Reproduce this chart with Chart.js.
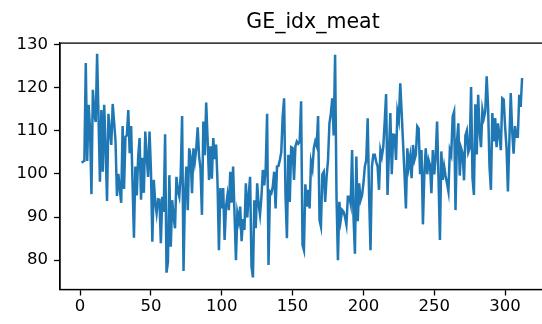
<!DOCTYPE html>
<html>
<head>
<meta charset="utf-8">
<script src="https://cdn.jsdelivr.net/npm/chart.js@4"></script>
<style>
  html, body { margin: 0; padding: 0; background: #fff; overflow: hidden; }
  #wrap { width: 570px; height: 324px; }
</style>
</head>
<body>
<div id="wrap"><canvas id="myChart" width="570" height="324"></canvas></div>
<script>
var title = 'GE_idx_meat';
var firstIndex = 1;
var meat = [
  102.6, 102.8, 103.0, 125.7, 103.0, 116.0, 110.5, 95.3, 119.5, 114.0,
  112.0, 127.8, 113.0, 98.2, 114.8, 100.5, 116.0, 106.0, 93.7, 113.9,
  110.0, 106.7, 116.2, 112.0, 107.5, 94.9, 100.0, 96.5, 93.3, 111.1,
  96.5, 108.6, 108.9, 114.8, 104.8, 111.1, 98.0, 85.2, 101.7, 95.0,
  104.0, 108.3, 94.0, 103.7, 95.6, 109.8, 104.0, 99.3, 109.8, 101.0,
  84.3, 98.6, 93.5, 90.9, 94.1, 94.0, 83.9, 94.7, 91.2, 109.2,
  77.1, 79.6, 99.7, 83.1, 93.9, 90.0, 87.4, 99.3, 96.0, 94.7,
  99.7, 113.4, 77.5, 95.0, 101.7, 91.6, 105.9, 104.0, 95.5, 105.9,
  102.9, 105.9, 110.8, 104.0, 101.2, 90.5, 112.1, 104.3, 116.5, 108.0,
  98.6, 106.4, 98.9, 108.3, 103.4, 106.8, 98.0, 82.3, 96.7, 92.0,
  96.7, 84.7, 92.4, 95.0, 91.6, 100.5, 93.3, 101.7, 90.9, 80.0,
  90.9, 89.0, 92.4, 84.4, 89.5, 87.0, 97.8, 89.9, 95.0, 99.3,
  78.5, 76.0, 93.9, 87.4, 97.8, 93.0, 90.5, 94.7, 100.9, 97.3,
  101.2, 113.9, 78.9, 95.9, 95.5, 97.0, 100.5, 92.0, 101.7, 101.8,
  103.2, 105.0, 113.3, 117.5, 95.0, 85.1, 104.4, 93.5, 106.2, 106.0,
  98.6, 106.4, 107.5, 107.0, 107.5, 116.8, 83.5, 82.3, 97.6, 92.4,
  96.3, 92.0, 102.8, 101.2, 106.0, 107.5, 106.5, 113.4, 89.3, 87.8,
  99.9, 100.5, 93.5, 99.3, 103.2, 111.7, 114.0, 117.5, 108.9, 127.6,
  94.7, 80.0, 93.5, 89.3, 91.6, 91.2, 90.0, 88.2, 94.7, 94.7,
  93.0, 105.5, 90.0, 81.5, 104.0, 89.0, 97.8, 93.9, 95.0, 97.8,
  101.7, 103.2, 112.9, 95.0, 82.3, 101.7, 104.4, 104.4, 102.8, 101.7,
  96.3, 105.5, 104.0, 106.2, 112.0, 118.5, 95.1, 105.0, 114.1, 99.9,
  109.1, 109.0, 103.2, 114.4, 112.5, 121.0, 114.1, 107.0, 99.9, 92.0,
  105.9, 101.7, 104.0, 99.0, 106.7, 103.2, 104.4, 111.0, 110.5, 99.9,
  105.5, 88.3, 100.0, 105.9, 99.9, 103.2, 102.0, 95.5, 105.5, 99.9,
  104.0, 112.1, 99.0, 84.7, 105.2, 98.6, 101.7, 99.5, 97.8, 95.9,
  105.5, 104.4, 113.3, 114.4, 91.6, 107.5, 111.7, 99.6, 105.9, 104.8,
  98.5, 108.9, 110.0, 105.0, 106.0, 120.1, 99.0, 95.1, 116.1, 104.5,
  118.3, 110.0, 106.2, 114.8, 112.9, 114.4, 122.6, 115.5, 101.7, 96.3,
  114.1, 107.5, 112.9, 106.2, 111.7, 109.0, 105.5, 117.5, 117.2, 111.0,
  106.2, 95.9, 107.5, 118.7, 110.0, 104.7, 111.1, 108.6, 108.6, 118.3,
  115.5, 122.2
];
var xTicks = [0, 50, 100, 150, 200, 250, 300];
var yTicks = [80, 90, 100, 110, 120, 130];

var points = meat.map(function (v, i) { return { x: firstIndex + i, y: v }; });

// matplotlib-like box around the plot area
var frame = {
  id: 'frame',
  afterDraw: function (chart) {
    var a = chart.chartArea, c = chart.ctx;
    c.save();
    c.strokeStyle = '#000';
    c.lineWidth = 1.3;
    c.strokeRect(a.left, a.top, a.right - a.left, a.bottom - a.top);
    c.restore();
  }
};

var tickFont = { family: 'DejaVu Sans', size: 16.5 };

var ctx = document.getElementById('myChart').getContext('2d');
var myChart = new Chart(ctx, {
  type: 'line',
  data: {
    datasets: [{
      data: points,
      borderColor: '#1f77b4',
      borderWidth: 2.5,
      pointRadius: 0,
      tension: 0,
      fill: false
    }]
  },
  options: {
    responsive: false,
    animation: false,
    events: [],
    layout: { padding: { left: 0, right: 4, top: 0, bottom: 0 } },
    plugins: {
      legend: { display: false },
      tooltip: { enabled: false },
      title: {
        display: true,
        text: title,
        fullSize: false,
        color: '#000',
        font: { family: 'DejaVu Sans', size: 20.5, weight: 'normal' },
        padding: { top: 10, bottom: 8.5 }
      }
    },
    scales: {
      x: {
        type: 'linear',
        min: -14.2,
        max: 343,
        afterBuildTicks: function (s) { s.ticks = xTicks.map(function (v) { return { value: v }; }); },
        afterFit: function (s) { s.height = 34.5; },
        grid: { drawOnChartArea: false, drawTicks: true, tickLength: 6, color: '#000', tickWidth: 1.3 },
        border: { display: true, color: '#000', width: 1.3 },
        ticks: { color: '#000', font: tickFont, padding: 1, maxRotation: 0, autoSkip: false }
      },
      y: {
        min: 73.2,
        max: 130.3,
        afterBuildTicks: function (s) { s.ticks = yTicks.map(function (v) { return { value: v }; }); },
        afterFit: function (s) { s.width = 60; },
        grid: { drawOnChartArea: false, drawTicks: true, tickLength: 6, color: '#000', tickWidth: 1.3 },
        border: { display: true, color: '#000', width: 1.3 },
        ticks: { color: '#000', font: tickFont, padding: 6 }
      }
    }
  },
  plugins: [frame]
});
</script>
</body>
</html>
